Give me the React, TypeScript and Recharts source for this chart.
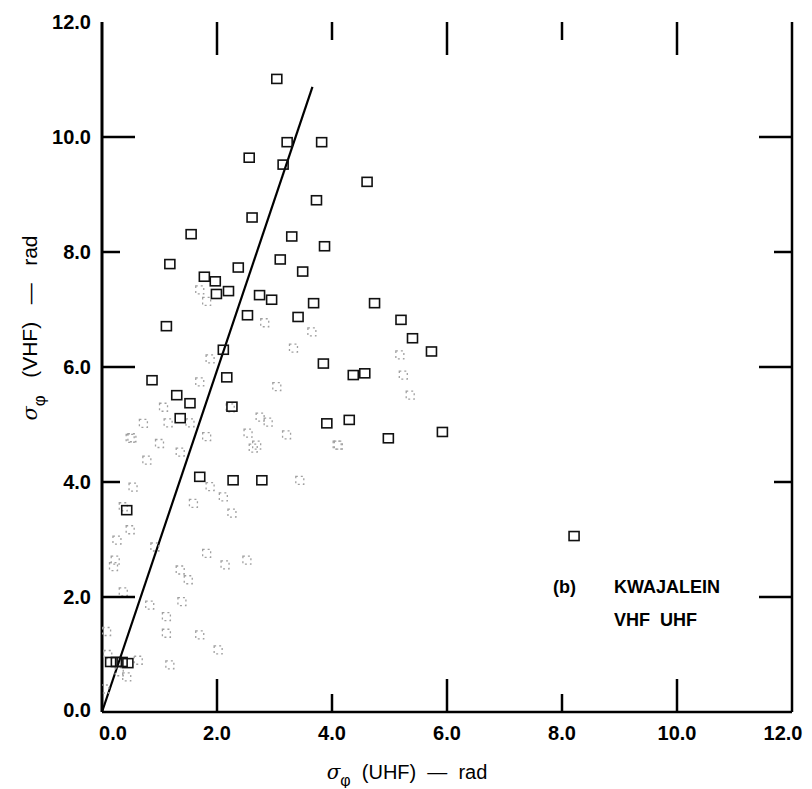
import React from 'react';
import { ScatterChart, Scatter, XAxis, YAxis, ReferenceLine } from 'recharts';

// Axis ticks (rad)
const X_TICKS = [0, 2, 4, 6, 8, 10, 12];
const Y_TICKS = [0, 2, 4, 6, 8, 10, 12];
const TICK_LABELS: Record<number, string> = { 0: '0.0', 2: '2.0', 4: '4.0', 6: '6.0', 8: '8.0', 10: '10.0', 12: '12.0' };

// Clearly printed points: sigma_phi(UHF), sigma_phi(VHF)
const clearUHF = [3.04, 3.22, 3.82, 2.56, 3.15, 3.73, 2.61, 1.55, 3.30, 3.87, 1.18, 2.37, 3.10, 3.49, 1.78, 1.97, 1.99, 2.20, 2.74, 2.95, 2.53, 2.11, 1.12, 0.87, 2.17, 1.30, 1.53, 1.36, 2.26, 3.68, 4.74, 5.20, 5.40, 5.73, 3.85, 4.37, 4.57, 3.91, 4.30, 4.98, 5.92, 4.61, 8.21, 1.70, 2.28, 2.78, 0.15, 0.25, 0.35, 0.45, 0.43, 3.41];
const clearVHF = [11.01, 9.91, 9.91, 9.64, 9.52, 8.90, 8.60, 8.31, 8.27, 8.10, 7.79, 7.73, 7.87, 7.66, 7.57, 7.49, 7.27, 7.32, 7.25, 7.17, 6.90, 6.30, 6.71, 5.77, 5.82, 5.51, 5.37, 5.11, 5.31, 7.11, 7.11, 6.82, 6.50, 6.27, 6.06, 5.86, 5.89, 5.02, 5.08, 4.76, 4.87, 9.22, 3.06, 4.09, 4.03, 4.03, 0.87, 0.87, 0.87, 0.85, 3.51, 6.87];

// Faint / partially printed points
const faintUHF = [1.70, 2.83, 3.33, 3.65, 1.70, 5.18, 5.24, 5.36, 4.11, 1.88, 1.82, 3.04, 3.21, 2.63, 1.07, 0.72, 0.52, 1.00, 1.15, 1.53, 1.82, 2.23, 2.54, 2.69, 2.89, 2.75, 0.78, 1.36, 0.54, 0.37, 0.26, 0.20, 0.37, 0.08, 0.43, 1.59, 2.11, 2.26, 1.36, 1.50, 1.39, 1.12, 1.12, 1.82, 2.14, 2.52, 0.83, 0.92, 0.49, 0.63, 1.18, 2.02, 1.70, 0.23, 3.44, 4.09, 1.88, 0.05, 0.10, 0.49, 0.30];
const faintVHF = [7.34, 6.77, 6.33, 6.61, 5.74, 6.21, 5.86, 5.51, 4.64, 6.14, 7.14, 5.66, 4.82, 4.59, 5.30, 5.02, 4.77, 4.67, 5.03, 5.03, 4.79, 5.29, 4.85, 4.64, 5.04, 5.13, 4.38, 4.52, 3.91, 3.57, 2.99, 2.53, 2.09, 1.40, 0.61, 3.63, 3.74, 3.46, 2.47, 2.30, 1.92, 1.66, 1.37, 2.76, 2.56, 2.64, 1.86, 2.87, 3.17, 0.90, 0.82, 1.08, 1.34, 2.64, 4.03, 4.64, 3.92, 0.40, 1.00, 4.76, 0.70];

// Fitted line end points
const fitUHF = [0, 3.66];
const fitVHF = [0, 10.87];

const clearData = clearUHF.map((x, i) => ({ x, y: clearVHF[i] }));
const faintData = faintUHF.map((x, i) => ({ x, y: faintVHF[i] }));
const fitSegment = fitUHF.map((x, i) => ({ x, y: fitVHF[i] }));

const FONT = '"Liberation Sans", Arial, Helvetica, sans-serif';
const LONG = 33;
const SHORT = 18;
const tickLen = (v: number) => (v % 4 === 2 ? LONG : SHORT);
const showTick = (v: number) => v !== 0 && v !== 12;

const BottomTick = (p: any) => {
  const { x, y, payload } = p;
  const v = payload.value;
  const dx = v === 0 ? 11 : v === 12 ? -9 : 0;
  return (
    <g>
      {showTick(v) && <line x1={x} x2={x} y1={y} y2={y - tickLen(v)} stroke="#000" strokeWidth={2.5} />}
      <text x={x + dx} y={y + 21} textAnchor="middle" dominantBaseline="central" fontFamily={FONT} fontWeight="bold" fontSize={20} fill="#000">
        {TICK_LABELS[v]}
      </text>
    </g>
  );
};

const TopTick = (p: any) => {
  const { x, y, payload } = p;
  const v = payload.value;
  if (!showTick(v)) return <g />;
  return <line x1={x} x2={x} y1={y} y2={y + tickLen(v)} stroke="#000" strokeWidth={2.5} />;
};

const LeftTick = (p: any) => {
  const { x, y, payload } = p;
  const v = payload.value;
  return (
    <g>
      {showTick(v) && <line x1={x} x2={x + tickLen(v)} y1={y} y2={y} stroke="#000" strokeWidth={2.5} />}
      <text x={x - 11} y={v === 0 ? y - 2 : y} textAnchor="end" dominantBaseline="central" fontFamily={FONT} fontWeight="bold" fontSize={20} fill="#000">
        {TICK_LABELS[v]}
      </text>
    </g>
  );
};

const RightTick = (p: any) => {
  const { x, y, payload } = p;
  const v = payload.value;
  if (!showTick(v)) return <g />;
  return <line x1={x} x2={x - tickLen(v)} y1={y} y2={y} stroke="#000" strokeWidth={2.5} />;
};

const ClearSquare = (p: any) => {
  const { cx, cy } = p;
  return <rect x={cx - 5} y={cy - 4.5} width={10} height={9} fill="none" stroke="#111" strokeWidth={1.6} />;
};

const FaintSquare = (p: any) => {
  const { cx, cy } = p;
  return <rect x={cx - 4} y={cy - 4} width={8} height={8} fill="none" stroke="#a0a0a0" strokeWidth={1.3} strokeDasharray="2 3" />;
};

const NoShape = () => <g />;

const Sigma = ({ sub }: { sub: string }) => (
  <span>
    <span style={{ fontStyle: 'italic', fontFamily: '"DejaVu Serif", serif' }}>σ</span>
    <span style={{ fontSize: '0.8em', position: 'relative', top: '0.45em' }}>{sub}</span>
  </span>
);

export default function App() {
  return (
    <div style={{ position: 'relative', width: 804, height: 780, background: '#fff' }}>
      <ScatterChart width={804} height={780} margin={{ top: 12, right: 18, bottom: 16, left: 34 }}>
        <XAxis xAxisId="b" type="number" dataKey="x" domain={[0, 12]} ticks={X_TICKS} interval={0} orientation="bottom" height={60}
          axisLine={{ stroke: '#000', strokeWidth: 2.5 }} tickLine={false} tickSize={0} tickMargin={0} tick={BottomTick} allowDataOverflow />
        <XAxis xAxisId="t" type="number" dataKey="x" domain={[0, 12]} ticks={X_TICKS} interval={0} orientation="top" height={2}
          axisLine={false} tickLine={false} tickSize={0} tickMargin={0} tick={TopTick} allowDataOverflow />
        <YAxis yAxisId="l" type="number" dataKey="y" domain={[0, 12]} ticks={Y_TICKS} interval={0} orientation="left" width={60}
          axisLine={{ stroke: '#000', strokeWidth: 3 }} tickLine={false} tickSize={0} tickMargin={0} tick={LeftTick} allowDataOverflow />
        <YAxis yAxisId="r" type="number" dataKey="y" domain={[0, 12]} ticks={Y_TICKS} interval={0} orientation="right" width={2}
          axisLine={{ stroke: '#000', strokeWidth: 2.5 }} tickLine={false} tickSize={0} tickMargin={0} tick={RightTick} allowDataOverflow />
        <Scatter xAxisId="t" yAxisId="r" data={clearData} shape={NoShape} isAnimationActive={false} />
        <Scatter xAxisId="b" yAxisId="l" data={faintData} shape={FaintSquare} isAnimationActive={false} />
        <Scatter xAxisId="b" yAxisId="l" data={clearData} shape={ClearSquare} isAnimationActive={false} />
        <ReferenceLine xAxisId="b" yAxisId="l" segment={fitSegment} stroke="#000" strokeWidth={2.2} ifOverflow="visible" />
      </ScatterChart>

      <div style={{ position: 'absolute', left: 22, top: 320, transform: 'translate(-50%, -50%) rotate(-90deg)', whiteSpace: 'pre', fontFamily: FONT, fontSize: 21, color: '#000' }}>
        <Sigma sub="φ" />{'   (VHF)   —   rad'}
      </div>
      <div style={{ position: 'absolute', left: 399, top: 764, transform: 'translate(-50%, -50%)', whiteSpace: 'pre', fontFamily: FONT, fontSize: 20, color: '#000' }}>
        <Sigma sub="φ" />{'  (UHF)  —  rad'}
      </div>
      <div style={{ position: 'absolute', left: 545, top: 569, whiteSpace: 'pre', fontFamily: FONT, fontSize: 18, fontWeight: 'bold', color: '#000' }}>
        (b)
      </div>
      <div style={{ position: 'absolute', left: 606, top: 569, whiteSpace: 'pre', fontFamily: FONT, fontSize: 18, fontWeight: 'bold', color: '#000' }}>
        KWAJALEIN
      </div>
      <div style={{ position: 'absolute', left: 606, top: 602, whiteSpace: 'pre', fontFamily: FONT, fontSize: 18, fontWeight: 'bold', color: '#000' }}>
        {'VHF  UHF'}
      </div>
    </div>
  );
}
